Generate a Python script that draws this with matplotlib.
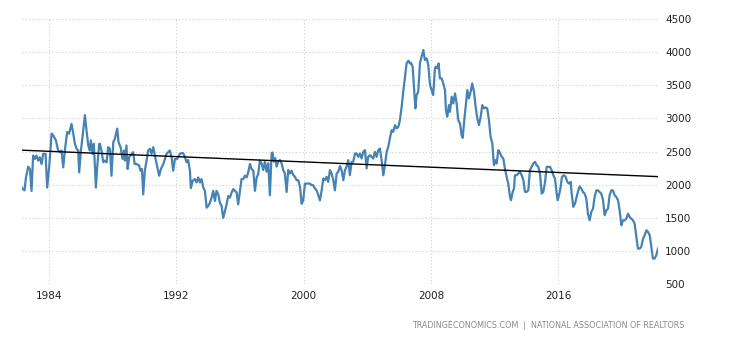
import numpy as np
import matplotlib
matplotlib.use("Agg")
import matplotlib.pyplot as plt

# Existencias de viviendas (miles), lectura aproximada del gráfico
years = [
    1982.33, 1982.41, 1982.49, 1982.58, 1982.72, 1982.83, 1982.93, 1983.03, 1983.14, 1983.24,
    1983.35, 1983.45, 1983.56, 1983.66, 1983.81, 1983.91, 1984.04, 1984.19, 1984.29, 1984.46,
    1984.60, 1984.71, 1984.81, 1984.92, 1985.02, 1985.17, 1985.29, 1985.44, 1985.55, 1985.65,
    1985.76, 1985.86, 1985.92, 1986.03, 1986.13, 1986.28, 1986.38, 1986.49, 1986.59, 1986.65,
    1986.76, 1986.84, 1986.97, 1987.05, 1987.18,
    1987.22, 1987.32, 1987.43, 1987.53, 1987.64, 1987.74, 1987.85, 1987.95, 1988.06, 1988.16,
    1988.31, 1988.39, 1988.52, 1988.64, 1988.73, 1988.79, 1988.89, 1988.96, 1989.06, 1989.21,
    1989.31, 1989.40, 1989.52, 1989.69, 1989.77, 1989.86, 1989.94, 1990.04, 1990.15, 1990.25,
    1990.36, 1990.46, 1990.57, 1990.67, 1990.78, 1990.94, 1991.05, 1991.20, 1991.30, 1991.40,
    1991.51, 1991.61, 1991.72, 1991.82, 1991.93, 1992.07, 1992.24,
    1992.35, 1992.45, 1992.56, 1992.66, 1992.76, 1992.87, 1992.93, 1993.04, 1993.18, 1993.29,
    1993.39, 1993.50, 1993.60, 1993.71, 1993.81, 1993.92, 1994.02, 1994.13, 1994.23, 1994.33,
    1994.44, 1994.54, 1994.65, 1994.75, 1994.86, 1994.96, 1995.07, 1995.17, 1995.28, 1995.38,
    1995.49, 1995.59, 1995.70, 1995.80, 1995.90, 1996.01, 1996.11, 1996.22, 1996.32, 1996.43,
    1996.53, 1996.64, 1996.74, 1996.85, 1996.95, 1997.06, 1997.16, 1997.26,
    1997.37, 1997.47, 1997.58, 1997.68, 1997.79, 1997.89, 1998.00, 1998.06, 1998.14, 1998.23,
    1998.31, 1998.41, 1998.52, 1998.62, 1998.73, 1998.83, 1998.94, 1999.04, 1999.15, 1999.25,
    1999.36, 1999.46, 1999.57, 1999.67, 1999.78, 1999.88, 1999.98, 2000.09, 2000.19, 2000.30,
    2000.40, 2000.51, 2000.61, 2000.72, 2000.82, 2000.93, 2001.03, 2001.14, 2001.24, 2001.34,
    2001.45, 2001.55, 2001.66, 2001.76, 2001.87, 2001.97, 2002.08, 2002.18, 2002.29,
    2002.39, 2002.50, 2002.60, 2002.70, 2002.81, 2002.91, 2003.02, 2003.12, 2003.23, 2003.33,
    2003.44, 2003.54, 2003.65, 2003.75, 2003.86, 2003.96, 2004.06, 2004.17, 2004.27, 2004.38,
    2004.48, 2004.59, 2004.69, 2004.80, 2004.90, 2005.01, 2005.11, 2005.22, 2005.32, 2005.42,
    2005.53, 2005.63, 2005.74, 2005.84, 2005.95, 2006.05, 2006.16, 2006.26, 2006.37, 2006.47,
    2006.58, 2006.68, 2006.74, 2006.85, 2006.93, 2007.02, 2007.10, 2007.20, 2007.31,
    2007.41, 2007.52, 2007.62, 2007.73, 2007.83, 2007.94, 2008.04, 2008.14, 2008.25, 2008.31,
    2008.40, 2008.48, 2008.56, 2008.67, 2008.77, 2008.88, 2008.94, 2009.02, 2009.13, 2009.19,
    2009.30, 2009.40, 2009.51, 2009.61, 2009.71, 2009.82, 2009.92, 2009.99, 2010.09, 2010.20,
    2010.28, 2010.38, 2010.49, 2010.59, 2010.70, 2010.80, 2010.91, 2011.01, 2011.12, 2011.22,
    2011.33, 2011.43, 2011.53, 2011.64, 2011.74, 2011.85, 2011.95, 2012.04, 2012.12, 2012.23,
    2012.33,
    2012.44, 2012.54, 2012.64, 2012.75, 2012.85, 2012.96, 2013.02, 2013.13, 2013.21, 2013.27,
    2013.38, 2013.48, 2013.59, 2013.69, 2013.80, 2013.90, 2014.00, 2014.11, 2014.21, 2014.32,
    2014.42, 2014.53, 2014.63, 2014.74, 2014.84, 2014.95, 2015.05, 2015.16, 2015.26, 2015.37,
    2015.47, 2015.57, 2015.68, 2015.78, 2015.89, 2015.95, 2016.06, 2016.14, 2016.22, 2016.35,
    2016.45, 2016.56, 2016.66, 2016.77, 2016.83, 2016.93, 2017.04, 2017.14, 2017.25,
    2017.33, 2017.44, 2017.54, 2017.65, 2017.75, 2017.85, 2017.96, 2018.06, 2018.17, 2018.27,
    2018.38, 2018.48, 2018.59, 2018.69, 2018.80, 2018.90, 2019.01, 2019.11, 2019.21, 2019.32,
    2019.42, 2019.53, 2019.63, 2019.74, 2019.84, 2019.95, 2020.05, 2020.16, 2020.26, 2020.37,
    2020.47, 2020.57, 2020.68, 2020.78, 2020.89, 2020.99, 2021.10, 2021.20, 2021.31, 2021.41,
    2021.52, 2021.62, 2021.73, 2021.83, 2021.93, 2022.04, 2022.14, 2022.25,
]
inventory = [
    1950, 1929, 1913, 2107, 2270, 2235, 1903, 2439, 2388, 2439,
    2362, 2413, 2311, 2464, 2464, 1954, 2270, 2770, 2745, 2668,
    2515, 2490, 2515, 2260, 2515, 2796, 2770, 2918, 2770, 2617,
    2541, 2515, 2184, 2515, 2719, 3051, 2821, 2592, 2515, 2668,
    2464, 2617, 1954, 2260, 2617,
    2617, 2515, 2337, 2362, 2337, 2566, 2541, 2133, 2643, 2694,
    2847, 2643, 2566, 2388, 2515, 2362, 2592, 2235, 2413, 2464,
    2490, 2311, 2311, 2286, 2209, 2235, 1852, 2209, 2362, 2515,
    2541, 2464, 2566, 2439, 2311, 2133, 2235, 2311, 2388, 2464,
    2490, 2515, 2413, 2209, 2388, 2388, 2464,
    2475, 2475, 2414, 2337, 2373, 2210, 1946, 2057, 2083, 2032,
    2108, 2032, 2083, 1955, 1904, 1650, 1676, 1727, 1803, 1905,
    1752, 1905, 1854, 1727, 1676, 1496, 1598, 1700, 1827, 1803,
    1880, 1931, 1905, 1880, 1700, 1905, 2083, 2083, 2134, 2108,
    2185, 2312, 2236, 2210, 1905, 2108, 2159, 2363,
    2322, 2219, 2347, 2194, 2322, 1837, 2474, 2485, 2347, 2398,
    2271, 2347, 2372, 2322, 2219, 2168, 1888, 2219, 2168, 2209,
    2143, 2117, 2066, 2066, 1964, 1709, 1760, 2015, 2015, 2015,
    2015, 1990, 1990, 1939, 1913, 1837, 1760, 1913, 2092, 2066,
    2117, 2041, 2219, 2168, 2066, 1913, 2168, 2194, 2280,
    2217, 2066, 2217, 2268, 2369, 2141, 2344, 2344, 2470, 2470,
    2419, 2470, 2394, 2495, 2520, 2243, 2419, 2445, 2419, 2394,
    2495, 2419, 2520, 2545, 2369, 2141, 2293, 2495, 2571, 2697,
    2823, 2798, 2899, 2849, 2874, 2975, 3177, 3404, 3631, 3833,
    3874, 3833, 3843, 3783, 3480, 3152, 3354, 3404, 3840,
    3934, 4035, 3884, 3909, 3808, 3505, 3429, 3354, 3758, 3783,
    3758, 3833, 3606, 3606, 3530, 3429, 3127, 3026, 3202, 3101,
    3328, 3227, 3379, 3227, 2975, 2925, 2748, 2707, 2975, 3227,
    3429, 3303, 3404, 3530, 3404, 3177, 3000, 2899, 3026, 3202,
    3152, 3167, 3152, 2975, 2722, 2621, 2293, 2369, 2318, 2520,
    2480,
    2419, 2394, 2242, 2116, 2015, 1813, 1763, 1889, 1939, 2141,
    2141, 2167, 2192, 2141, 2066, 1889, 1889, 1914, 2217, 2268,
    2318, 2343, 2293, 2268, 2167, 1864, 1889, 2040, 2268, 2268,
    2268, 2217, 2141, 2091, 1864, 1763, 1864, 1965, 2116, 2141,
    2116, 2040, 2015, 2040, 1864, 1662, 1712, 1813, 1914,
    1972, 1937, 1887, 1862, 1786, 1560, 1459, 1585, 1635, 1811,
    1912, 1912, 1887, 1862, 1761, 1536, 1610, 1635, 1837, 1912,
    1912, 1837, 1812, 1762, 1610, 1383, 1459, 1459, 1484, 1559,
    1509, 1484, 1459, 1409, 1208, 1031, 1031, 1057, 1182, 1232,
    1308, 1283, 1232, 1057, 880, 880, 931, 1031,
]

# Línea de tendencia (valores en los extremos)
trend_values = [2520, 2120]

tick_years = [1984, 1992, 2000, 2008, 2016]
y_ticks = [500, 1000, 1500, 2000, 2500, 3000, 3500, 4000, 4500]
source = "TRADINGECONOMICS.COM  |  NATIONAL ASSOCIATION OF REALTORS"

x = np.array(years)
y = np.array(inventory)

fig = plt.figure(figsize=(7.3, 3.4), dpi=100)
ax = fig.add_axes([0.0301, 0.1656, 0.8713, 0.7776])

ax.plot(x, y, color="#4682b4", lw=1.6, solid_joinstyle="round", zorder=3)
ax.plot([x[0], x[-1]], trend_values, color="black", lw=1.0, zorder=4)

ax.set_xlim(x[0], x[-1])
ax.set_ylim(500, 4500)
ax.set_xticks(tick_years)
ax.set_xticklabels([str(t) for t in tick_years])
ax.set_yticks(y_ticks)
ax.yaxis.tick_right()

for s in ax.spines.values():
    s.set_visible(False)
ax.tick_params(axis="both", length=0, labelsize=7.5, colors="#222222")
ax.tick_params(axis="y", pad=5)
ax.tick_params(axis="x", pad=5)
ax.grid(True, color="#cfcfcf", lw=0.8, linestyle=(0, (1, 2)))
ax.set_axisbelow(True)

fig.text(0.938, 0.044, source, ha="right", va="center", fontsize=5.8, color="#8a8a8a")

fig.savefig("out.png", dpi=100)
